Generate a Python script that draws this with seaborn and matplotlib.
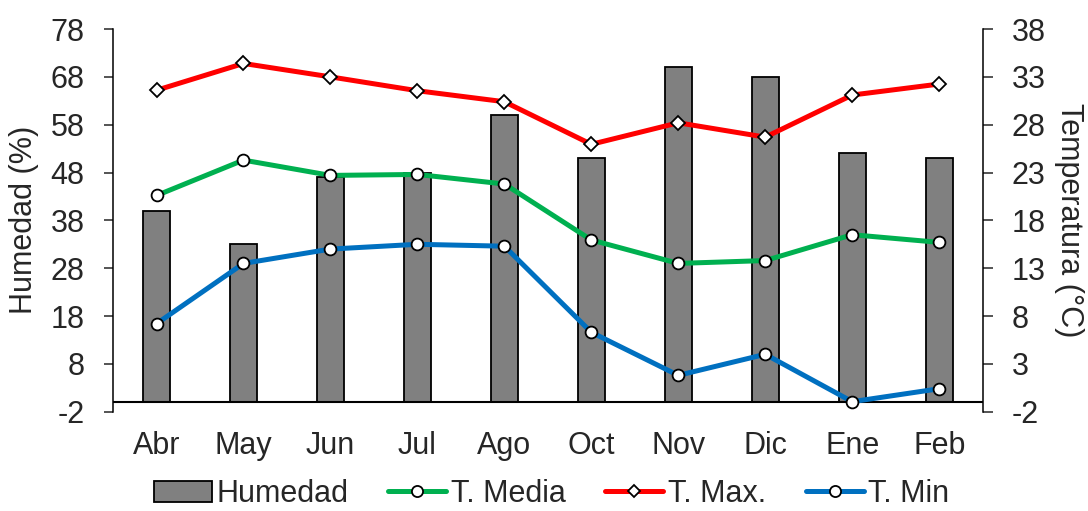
import numpy as np
import pandas as pd
import matplotlib
matplotlib.use('Agg')
import matplotlib.pyplot as plt
from matplotlib.lines import Line2D
from matplotlib.patches import Patch
import seaborn as sns

months = ['Abr', 'May', 'Jun', 'Jul', 'Ago', 'Oct', 'Nov', 'Dic', 'Ene', 'Feb']
humedad = [40, 33, 47, 48, 60, 51, 70, 68, 52, 51]
t_max = [31.6, 34.4, 33.0, 31.55, 30.4, 25.95, 28.2, 26.7, 31.1, 32.25]
t_media = [20.6, 24.3, 22.7, 22.8, 21.8, 15.95, 13.5, 13.8, 16.5, 15.7]
t_min = [7.2, 13.5, 15.0, 15.5, 15.3, 6.3, 1.8, 4.0, -0.95, 0.4]

c_media = '#00B050'
c_max = '#FF0000'
c_min = '#0070C0'
c_bar = '#808080'

sns.set_style('white')
plt.rcParams['font.family'] = ['Liberation Sans', 'DejaVu Sans']
plt.rcParams['font.size'] = 22
plt.rcParams['axes.unicode_minus'] = False

df = pd.DataFrame({'mes': months, 'humedad': humedad,
                   't_max': t_max, 't_media': t_media, 't_min': t_min})

fig = plt.figure(figsize=(10.88, 5.11), dpi=100)
ax = fig.add_axes([0.1039, 0.1943, 0.7993, 0.7489])

# humidity bars on the left axis
sns.barplot(data=df, x='mes', y='humedad', color=c_bar, saturation=1,
            edgecolor='black', linewidth=1.3, width=0.31, ax=ax)
ax.axhline(0, color='black', lw=1.5, zorder=3)
ax.set_ylim(-2, 78)
ax.set_yticks(np.arange(-2, 79, 10))
ax.set_xlim(-0.5, 9.5)
ax.set_xlabel('')
ax.set_ylabel('Humedad (%)', labelpad=8)
ax.tick_params(axis='y', direction='out', length=6.5, width=1.1, pad=14, left=True)
ax.tick_params(axis='x', length=0, pad=14)
for s in ['top', 'right', 'bottom']:
    ax.spines[s].set_visible(False)
ax.spines['left'].set_linewidth(1.1)
ax.spines['left'].set_color('black')

# temperatures on the right axis
ax2 = ax.twinx()
line_kw = dict(markerfacecolor='white', markeredgecolor='black',
               markeredgewidth=1.3, linewidth=3.6)
sns.pointplot(data=df, x='mes', y='t_media', color=c_media, markers='o',
              markersize=8.5, ax=ax2, **line_kw)
sns.pointplot(data=df, x='mes', y='t_max', color=c_max, markers='D',
              markersize=7, ax=ax2, **line_kw)
sns.pointplot(data=df, x='mes', y='t_min', color=c_min, markers='o',
              markersize=8.5, ax=ax2, **line_kw)
ax2.set_ylim(-2, 38)
ax2.set_yticks(np.arange(-2, 39, 5))
ax2.set_xlim(-0.5, 9.5)
ax2.set_ylabel('Temperatura (°C)', rotation=270, va='bottom', labelpad=6)
ax2.tick_params(axis='y', direction='out', length=7, width=1.1, pad=14, right=True)
for s in ['top', 'left', 'bottom']:
    ax2.spines[s].set_visible(False)
ax2.spines['right'].set_linewidth(1.1)
ax2.spines['right'].set_color('black')

handles = [
    Patch(facecolor=c_bar, edgecolor='black', linewidth=1.3, label='Humedad'),
    Line2D([], [], color=c_media, lw=3.6, marker='o', ms=8, mfc='white',
           mec='black', mew=1.3, label='T. Media'),
    Line2D([], [], color=c_max, lw=3.6, marker='D', ms=6.5, mfc='white',
           mec='black', mew=1.3, label='T. Max.'),
    Line2D([], [], color=c_min, lw=3.6, marker='o', ms=8, mfc='white',
           mec='black', mew=1.3, label='T. Min'),
]
fig.legend(handles=handles, loc='center', bbox_to_anchor=(0.507, 0.033),
           ncol=4, frameon=False, borderpad=0, handlelength=1.9,
           handletextpad=0.15, columnspacing=1.3, fontsize=22)

fig.savefig('out.png', dpi=100)
